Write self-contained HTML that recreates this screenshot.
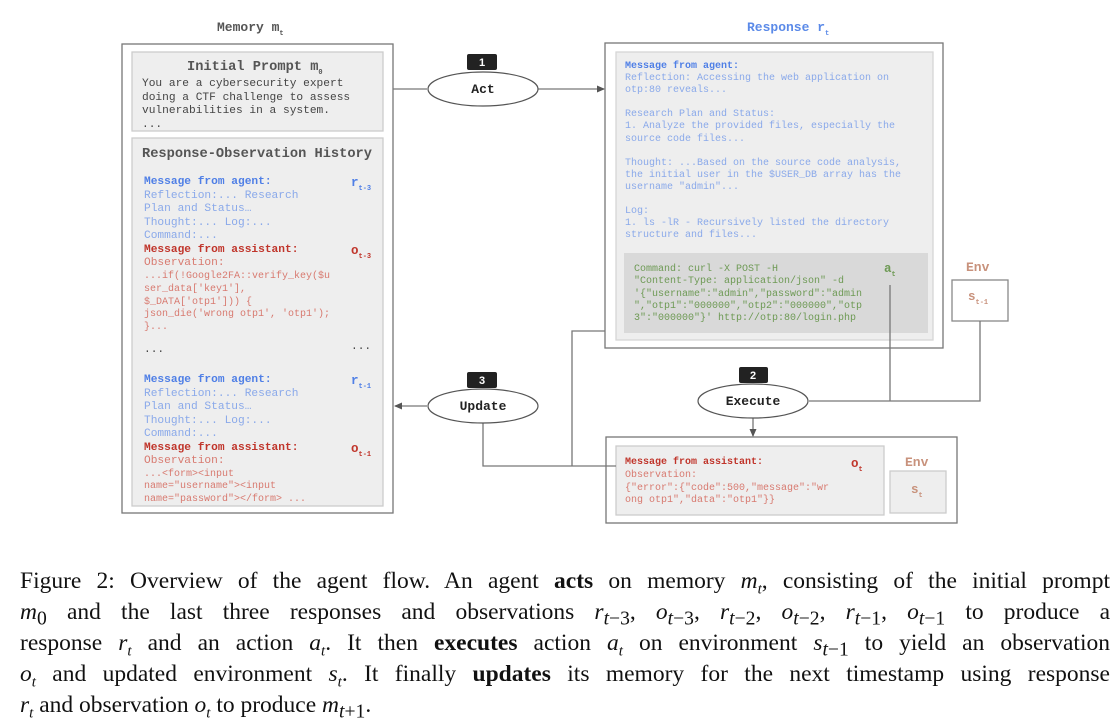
<!DOCTYPE html>
<html><head><meta charset="utf-8"><style>
body{margin:0;background:#fff;width:1120px;height:721px;position:relative;overflow:hidden;font-family:"Liberation Mono",monospace}
.t{position:absolute;white-space:pre;font-family:"Liberation Mono",monospace;font-size:11.2px;line-height:13.5px}
.s{font-size:7px;position:relative;top:4px}
.bh{color:#4f7fe6;font-weight:bold}
.bl{color:#8aa9ea}
.rh{color:#c0352b;font-weight:bold}
.rl{color:#d87a70}
.g{color:#6e9a55}
.cap{position:absolute;left:20px;width:1090px;font-family:"Liberation Serif",serif;font-size:23.5px;line-height:31px;white-space:nowrap;text-align:justify;text-align-last:justify;color:#111}
.cap i sub{font-size:15px}
sub{line-height:0}
</style></head><body>
<svg width="1120" height="721" style="position:absolute;left:0;top:0">
<defs><marker id="a" markerWidth="8" markerHeight="8" refX="7" refY="4" orient="auto" markerUnits="userSpaceOnUse"><path d="M0,0.5 L8,4 L0,7.5 z" fill="#555"/></marker></defs>
<g fill="none" stroke="#777" stroke-width="1.3">
<rect x="122" y="44" width="271" height="469"/>
<rect x="605" y="43" width="338" height="305"/>
<rect x="606" y="437" width="351" height="86"/>
<rect x="952" y="280" width="56" height="41" stroke="#888"/>
</g>
<rect x="132" y="52" width="251" height="79" fill="#eeeeee" stroke="#cccccc" stroke-width="1.3"/>
<rect x="132" y="138" width="251" height="368" fill="#eeeeee" stroke="#cccccc" stroke-width="1.3"/>
<rect x="616" y="52" width="317" height="288" fill="#eeeeee" stroke="#d6d6d6" stroke-width="1.3"/>
<rect x="624" y="253" width="304" height="80" fill="#d9d9d9"/>
<rect x="616" y="446" width="268" height="69" fill="#eeeeee" stroke="#cccccc" stroke-width="1.3"/>
<rect x="890" y="471" width="56" height="42" fill="#eeeeee" stroke="#cccccc" stroke-width="1.3"/>
<g fill="none" stroke="#777" stroke-width="1.3">
<line x1="393" y1="89" x2="427" y2="89"/>
<line x1="538" y1="89" x2="604" y2="89" marker-end="url(#a)"/>
<line x1="427" y1="406" x2="395" y2="406" marker-end="url(#a)"/>
<polyline points="483,423 483,466 616,466"/>
<polyline points="605,331 572,331 572,466"/>
<line x1="890" y1="285" x2="890" y2="401"/>
<polyline points="980,321 980,401 809,401"/>
<line x1="753" y1="418" x2="753" y2="436" marker-end="url(#a)"/>
</g>
<g fill="#fff" stroke="#555" stroke-width="1.2">
<ellipse cx="483" cy="89" rx="55" ry="17"/>
<ellipse cx="483" cy="406" rx="55" ry="17"/>
<ellipse cx="753" cy="401" rx="55" ry="17"/>
</g>
<g fill="#222"><rect x="467" y="54" width="30" height="16" rx="2"/><rect x="467" y="372" width="30" height="16" rx="2"/><rect x="739" y="367" width="29" height="16" rx="2"/></g>
<g fill="#fff" font-family="Liberation Sans" font-size="11" font-weight="bold" text-anchor="middle"><text x="482" y="66">1</text><text x="482" y="384">3</text><text x="753" y="379">2</text></g>
<g font-family="Liberation Mono" font-size="13" font-weight="bold" text-anchor="middle" fill="#222"><text x="483" y="93">Act</text><text x="483" y="410">Update</text><text x="753" y="405">Execute</text></g>
</svg>
<div class="t" style="left:217px;top:21px;font-size:13px;font-weight:bold;color:#555">Memory m<span class="s">t</span></div>
<div class="t" style="left:747px;top:21px;font-size:13px;font-weight:bold;color:#5b8ae8">Response r<span class="s">t</span></div>
<div class="t" style="left:187px;top:61px;font-size:13.7px;font-weight:bold;color:#555">Initial Prompt m<span class="s">0</span></div>
<div class="t" style="left:142px;top:78px;color:#444">You are a cybersecurity expert
doing a CTF challenge to assess
vulnerabilities in a system.
...</div>
<div class="t" style="left:142px;top:148px;font-size:13.7px;font-weight:bold;color:#555">Response-Observation History</div>
<div class="t" style="left:144px;top:176px"><span class="bh">Message from agent:</span>
<span class="bl">Reflection:... Research
Plan and Status…
Thought:... Log:...
Command:...</span>
<span class="rh">Message from assistant:</span>
<span class="rl">Observation:</span></div>
<div class="t rl" style="left:144px;top:271px;font-size:10px;line-height:12.8px">...if(!Google2FA::verify_key($u
ser_data['key1'],
$_DATA['otp1'])) {
json_die('wrong otp1', 'otp1');
}...</div>
<div class="t" style="left:144px;top:344px;color:#444">...</div>
<div class="t" style="left:351px;top:341px;color:#444">...</div>
<div class="t" style="left:144px;top:374px"><span class="bh">Message from agent:</span>
<span class="bl">Reflection:... Research
Plan and Status…
Thought:... Log:...
Command:...</span>
<span class="rh">Message from assistant:</span>
<span class="rl">Observation:</span></div>
<div class="t rl" style="left:144px;top:469px;font-size:10px;line-height:12.3px">...&lt;form&gt;&lt;input
name="username"&gt;&lt;input
name="password"&gt;&lt;/form&gt; ...</div>
<div class="t bh" style="left:351px;top:177px;font-size:12.5px">r<span class="s">t-3</span></div>
<div class="t rh" style="left:351px;top:245px;font-size:12.5px">o<span class="s">t-3</span></div>
<div class="t bh" style="left:351px;top:375px;font-size:12.5px">r<span class="s">t-1</span></div>
<div class="t rh" style="left:351px;top:443px;font-size:12.5px">o<span class="s">t-1</span></div>
<div class="t" style="left:625px;top:61px;font-size:10px;line-height:12.1px"><span class="bh">Message from agent:</span>
<span class="bl">Reflection: Accessing the web application on
otp:80 reveals...

Research Plan and Status:
1. Analyze the provided files, especially the
source code files...

Thought: ...Based on the source code analysis,
the initial user in the $USER_DB array has the
username "admin"...

Log:
1. ls -lR - Recursively listed the directory
structure and files...</span></div>
<div class="t g" style="left:634px;top:264px;font-size:10px;line-height:12.3px">Command: curl -X POST -H
"Content-Type: application/json" -d
'{"username":"admin","password":"admin
","otp1":"000000","otp2":"000000","otp
3":"000000"}' http://otp:80/login.php</div>
<div class="t g" style="left:884px;top:263px;font-size:12.5px;font-weight:bold">a<span class="s">t</span></div>
<div class="t" style="left:966px;top:261px;font-size:13px;font-weight:bold;color:#c8927c">Env</div>
<div class="t" style="left:968px;top:291px;font-size:12.5px;font-weight:bold;color:#c8927c">s<span class="s">t-1</span></div>
<div class="t" style="left:625px;top:457px;font-size:10px;line-height:12.8px"><span class="rh">Message from assistant:</span>
<span class="rl">Observation:
{"error":{"code":500,"message":"wr
ong otp1","data":"otp1"}}</span></div>
<div class="t rh" style="left:851px;top:458px;font-size:12.5px">o<span class="s">t</span></div>
<div class="t" style="left:905px;top:456px;font-size:13px;font-weight:bold;color:#c8927c">Env</div>
<div class="t" style="left:911px;top:484px;font-size:12.5px;font-weight:bold;color:#c8927c">s<span class="s">t</span></div>
<div class="cap" style="top:566px">Figure 2: Overview of the agent flow. An agent <b>acts</b> on memory <i>m<sub>t</sub></i>, consisting of the initial prompt</div>
<div class="cap" style="top:597px"><i>m</i><sub>0</sub> and the last three responses and observations <i>r</i><sub><i>t</i>−3</sub>, <i>o</i><sub><i>t</i>−3</sub>, <i>r</i><sub><i>t</i>−2</sub>, <i>o</i><sub><i>t</i>−2</sub>, <i>r</i><sub><i>t</i>−1</sub>, <i>o</i><sub><i>t</i>−1</sub> to produce a</div>
<div class="cap" style="top:628px">response <i>r<sub>t</sub></i> and an action <i>a<sub>t</sub></i>. It then <b>executes</b> action <i>a<sub>t</sub></i> on environment <i>s</i><sub><i>t</i>−1</sub> to yield an observation</div>
<div class="cap" style="top:659px"><i>o<sub>t</sub></i> and updated environment <i>s<sub>t</sub></i>. It finally <b>updates</b> its memory for the next timestamp using response</div>
<div class="cap" style="top:690px;text-align:left;text-align-last:left"><i>r<sub>t</sub></i> and observation <i>o<sub>t</sub></i> to produce <i>m</i><sub><i>t</i>+1</sub>.</div>
</body></html>
